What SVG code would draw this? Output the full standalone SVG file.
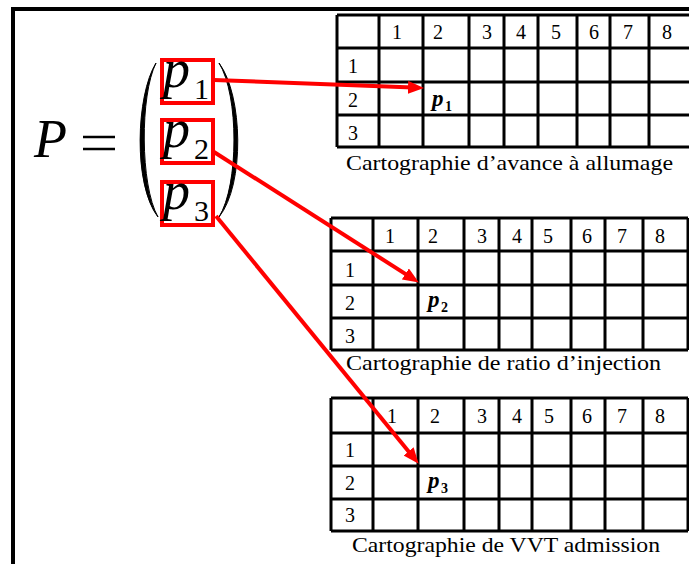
<svg xmlns="http://www.w3.org/2000/svg" width="689" height="564" viewBox="0 0 689 564">
<defs>
<style>
.frame{fill:none;stroke:#000;stroke-width:4}
.grid{fill:none;stroke:#000;stroke-width:3}
.num{font-family:"Liberation Serif","DejaVu Serif",serif;font-size:20px;fill:#000;text-anchor:middle}
.cap{font-family:"Liberation Serif","DejaVu Serif",serif;font-size:22px;fill:#000}
.cell{font-family:"Liberation Serif","DejaVu Serif",serif;font-weight:bold;font-style:italic;font-size:23px;fill:#000}
.cellsub{font-family:"Liberation Serif","DejaVu Serif",serif;font-weight:bold;font-size:14px;fill:#000}
.math{font-family:"Liberation Serif","DejaVu Serif",serif;font-style:italic;font-size:54px;fill:#000}
.mathsub{font-family:"Liberation Serif","DejaVu Serif",serif;font-size:30px;fill:#000}
.box{fill:none;stroke:#ff0000;stroke-width:4}
.arrow{fill:none;stroke:#ff0000;stroke-width:4;marker-end:url(#ah)}
</style>
<marker id="ah" markerUnits="userSpaceOnUse" markerWidth="16" markerHeight="13" refX="5" refY="6.5" orient="auto">
<path d="M0,0 L16,6.5 L0,13 z" fill="#ff0000"/>
</marker>
</defs>
<rect x="0" y="0" width="689" height="564" fill="#fff"/>
<rect class="frame" x="13" y="9" width="700" height="600"/>

<g id="vector">
<text class="math" x="34" y="157">P</text>
<path d="M83,137 H115 M83,149 H115" stroke="#000" stroke-width="2.5" fill="none"/>
<path d="M156,63 C136,95 133,185 158,217 C140,185 140,95 156,63 z" fill="#000" stroke="#000" stroke-width="1"/>
<path d="M219,63 C243,95 245,185 219,217 C239,185 239,95 219,63 z" fill="#000" stroke="#000" stroke-width="1"/>
</g>

<g id="p1">
<rect class="box" x="162" y="60" width="51" height="43"/>
<text class="math" x="163" y="87">p</text>
<text class="mathsub" x="194" y="99">1</text>
</g>
<g id="p2">
<rect class="box" x="162" y="120" width="51" height="43"/>
<text class="math" x="163" y="147">p</text>
<text class="mathsub" x="194" y="159">2</text>
</g>
<g id="p3">
<rect class="box" x="162" y="182" width="51" height="43"/>
<text class="math" x="163" y="209">p</text>
<text class="mathsub" x="194" y="221">3</text>
</g>

<g id="table1">
<path class="grid" d="M337,15 H700 M337,48 H700 M337,82 H700 M337,115 H700 M337,147 H700 M337,15 V147 M379,15 V147 M423,15 V147 M469,15 V147 M504,15 V147 M538,15 V147 M577,15 V147 M610,15 V147 M649,15 V147"/>
<text class="num" x="397" y="39">1</text>
<text class="num" x="438" y="39">2</text>
<text class="num" x="487" y="39">3</text>
<text class="num" x="521" y="39">4</text>
<text class="num" x="556" y="39">5</text>
<text class="num" x="594" y="39">6</text>
<text class="num" x="628" y="39">7</text>
<text class="num" x="667" y="39">8</text>
<text class="num" x="353" y="73">1</text>
<text class="num" x="353" y="107">2</text>
<text class="num" x="353" y="140">3</text>
<text class="cell" x="432" y="106">p</text>
<text class="cellsub" x="445" y="111">1</text>
<text class="cap" x="346" y="170" textLength="327" lengthAdjust="spacingAndGlyphs">Cartographie d’avance à allumage</text>
</g>

<g id="table2">
<path class="grid" d="M331,218 H688 M331,251 H688 M331,285 H688 M331,318 H688 M331,350 H688 M331,218 V350 M373,218 V350 M418,218 V350 M464,218 V350 M499,218 V350 M532,218 V350 M571,218 V350 M605,218 V350 M643,218 V350 M688,218 V350"/>
<text class="num" x="390" y="243">1</text>
<text class="num" x="433" y="243">2</text>
<text class="num" x="482" y="243">3</text>
<text class="num" x="517" y="243">4</text>
<text class="num" x="548" y="243">5</text>
<text class="num" x="587" y="243">6</text>
<text class="num" x="622" y="243">7</text>
<text class="num" x="660" y="243">8</text>
<text class="num" x="350" y="277">1</text>
<text class="num" x="350" y="310">2</text>
<text class="num" x="350" y="343">3</text>
<text class="cell" x="428" y="307">p</text>
<text class="cellsub" x="441" y="312">2</text>
<text class="cap" x="346" y="370" textLength="315" lengthAdjust="spacingAndGlyphs">Cartographie de ratio d’injection</text>
</g>

<g id="table3">
<path class="grid" d="M331,398 H688 M331,433 H688 M331,466 H688 M331,499 H688 M331,531 H688 M331,398 V531 M373,398 V531 M418,398 V531 M464,398 V531 M499,398 V531 M532,398 V531 M571,398 V531 M605,398 V531 M643,398 V531 M688,398 V531"/>
<text class="num" x="392" y="423">1</text>
<text class="num" x="435" y="423">2</text>
<text class="num" x="482" y="423">3</text>
<text class="num" x="517" y="423">4</text>
<text class="num" x="549" y="423">5</text>
<text class="num" x="587" y="423">6</text>
<text class="num" x="622" y="423">7</text>
<text class="num" x="660" y="423">8</text>
<text class="num" x="350" y="457">1</text>
<text class="num" x="350" y="490">2</text>
<text class="num" x="350" y="522">3</text>
<text class="cell" x="428" y="488">p</text>
<text class="cellsub" x="441" y="493">3</text>
<text class="cap" x="352" y="552" textLength="308" lengthAdjust="spacingAndGlyphs">Cartographie de VVT admission</text>
</g>

<g id="connectors">
<line class="arrow" x1="214" y1="80" x2="413" y2="87.6"/>
<line class="arrow" x1="214" y1="152" x2="409.6" y2="276.6"/>
<line class="arrow" x1="216" y1="216" x2="411.7" y2="455.3"/>
</g>
</svg>
